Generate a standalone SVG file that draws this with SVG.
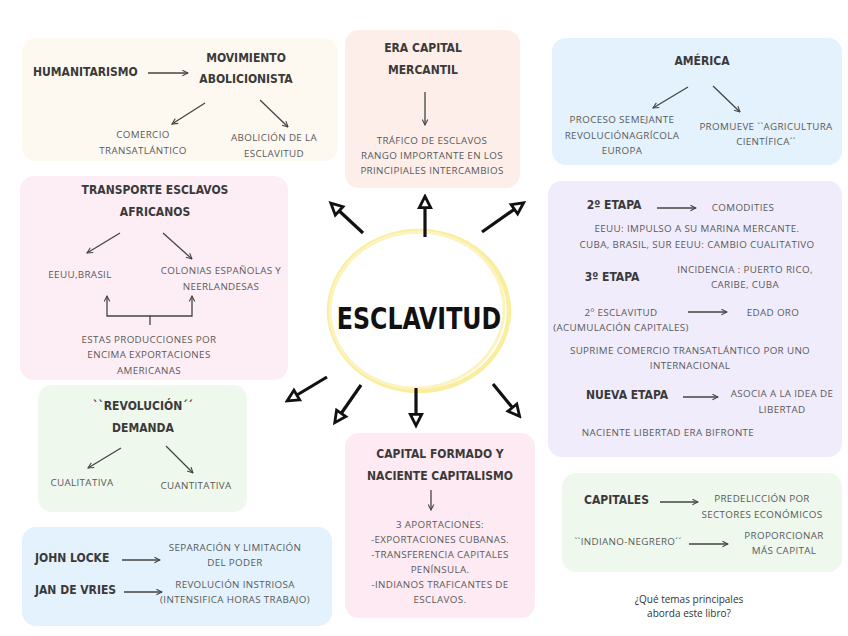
<svg xmlns="http://www.w3.org/2000/svg" width="848" height="636" viewBox="0 0 848 636">
<defs>
<style>
.h{font-family:"DejaVu Sans Condensed","Liberation Sans Narrow","DejaVu Sans",sans-serif;font-weight:bold;font-size:12px;fill:#3a3a3a;text-anchor:middle}
.hl{text-anchor:start}
.t{font-family:"Open Sans","Liberation Sans",sans-serif;font-size:9.8px;letter-spacing:0.35px;fill:#5a5a5a;text-anchor:middle}
.q{font-family:"Open Sans","Liberation Sans",sans-serif;font-size:10px;fill:#333;text-anchor:middle}
.a{stroke:#444;stroke-width:1.3;fill:none;marker-end:url(#ah)}
.b{stroke:#111;stroke-width:3.2;fill:none;marker-end:url(#bh)}
</style>
<marker id="ah" viewBox="0 0 10 10" refX="9" refY="5" markerWidth="7" markerHeight="7" markerUnits="userSpaceOnUse" orient="auto"><path d="M1,1 L9,5 L1,9" fill="none" stroke="#444" stroke-width="1.5"/></marker>
<marker id="bh" viewBox="0 0 12 12" refX="6" refY="6" markerWidth="17" markerHeight="17" markerUnits="userSpaceOnUse" orient="auto"><path d="M2,2 L10,6 L2,10 Z" fill="#fff" stroke="#111" stroke-width="2"/></marker>
</defs>
<rect width="848" height="636" fill="#fff"/>

<g id="n-humanitarismo">
<rect x="22" y="38" width="316" height="123" rx="14" fill="#fdf9f1"/>
<text class="h hl" x="33" y="76">HUMANITARISMO</text>
<text class="h" x="246" y="62">MOVIMIENTO</text>
<text class="h" x="246" y="83">ABOLICIONISTA</text>
<text class="t" x="143" y="138">COMERCIO</text>
<text class="t" x="143" y="154">TRANSATLÁNTICO</text>
<text class="t" x="274" y="141">ABOLICIÓN DE LA</text>
<text class="t" x="274" y="157">ESCLAVITUD</text>
</g>

<g id="n-era">
<rect x="345" y="30" width="175" height="158" rx="14" fill="#fdeee9"/>
<text class="h" x="423" y="52">ERA CAPITAL</text>
<text class="h" x="423" y="74">MERCANTIL</text>
<text class="t" x="432" y="144">TRÁFICO DE ESCLAVOS</text>
<text class="t" x="432" y="159">RANGO IMPORTANTE EN LOS</text>
<text class="t" x="432" y="174">PRINCIPIALES INTERCAMBIOS</text>
</g>

<g id="n-america">
<rect x="552" y="38" width="290" height="127" rx="14" fill="#e3f2fd"/>
<text class="h" x="702" y="65">AMÉRICA</text>
<text class="t" x="622" y="123">PROCESO SEMEJANTE</text>
<text class="t" x="622" y="139">REVOLUCIÓNAGRÍCOLA</text>
<text class="t" x="622" y="154">EUROPA</text>
<text class="t" x="766" y="130">PROMUEVE ``AGRICULTURA</text>
<text class="t" x="766" y="145">CIENTÍFICA´´</text>
</g>

<g id="n-transporte">
<rect x="20" y="176" width="268" height="204" rx="14" fill="#fdeef6"/>
<text class="h" x="155" y="194">TRANSPORTE ESCLAVOS</text>
<text class="h" x="155" y="216">AFRICANOS</text>
<text class="t" x="80" y="278">EEUU,BRASIL</text>
<text class="t" x="221" y="274">COLONIAS ESPAÑOLAS Y</text>
<text class="t" x="221" y="290">NEERLANDESAS</text>
<text class="t" x="149" y="343">ESTAS PRODUCCIONES POR</text>
<text class="t" x="149" y="358">ENCIMA EXPORTACIONES</text>
<text class="t" x="149" y="374">AMERICANAS</text>
</g>

<g id="n-etapas">
<rect x="548" y="181" width="294" height="276" rx="14" fill="#f1ecfb"/>
<text class="h" x="614" y="209">2º ETAPA</text>
<text class="t" x="743" y="211">COMODITIES</text>
<text class="t" x="697" y="232">EEUU: IMPULSO A SU MARINA MERCANTE.</text>
<text class="t" x="697" y="248">CUBA, BRASIL, SUR EEUU: CAMBIO CUALITATIVO</text>
<text class="h" x="612" y="281">3º ETAPA</text>
<text class="t" x="745" y="273">INCIDENCIA : PUERTO RICO,</text>
<text class="t" x="745" y="288">CARIBE, CUBA</text>
<text class="t" x="621" y="316">2º ESCLAVITUD</text>
<text class="t" x="621" y="331">(ACUMULACIÓN CAPITALES)</text>
<text class="t" x="773" y="316">EDAD ORO</text>
<text class="t" x="690" y="354">SUPRIME COMERCIO TRANSATLÁNTICO POR UNO</text>
<text class="t" x="690" y="369">INTERNACIONAL</text>
<text class="h" x="627" y="399">NUEVA ETAPA</text>
<text class="t" x="782" y="397">ASOCIA A LA IDEA DE</text>
<text class="t" x="782" y="413">LIBERTAD</text>
<text class="t" x="668" y="436">NACIENTE LIBERTAD ERA BIFRONTE</text>
</g>

<g id="n-revolucion">
<rect x="38" y="385" width="209" height="127" rx="14" fill="#eef8ec"/>
<text class="h" x="143" y="410">``REVOLUCIÓN´´</text>
<text class="h" x="143" y="432">DEMANDA</text>
<text class="t" x="82" y="486">CUALITATIVA</text>
<text class="t" x="196" y="489">CUANTITATIVA</text>
</g>

<g id="n-capital">
<rect x="345" y="433" width="190" height="185" rx="14" fill="#fdeaf3"/>
<text class="h" x="440" y="458">CAPITAL FORMADO Y</text>
<text class="h" x="440" y="480">NACIENTE CAPITALISMO</text>
<text class="t" x="440" y="528">3 APORTACIONES:</text>
<text class="t" x="440" y="543">-EXPORTACIONES CUBANAS.</text>
<text class="t" x="440" y="558">-TRANSFERENCIA CAPITALES</text>
<text class="t" x="440" y="573">PENÍNSULA.</text>
<text class="t" x="440" y="588">-INDIANOS TRAFICANTES DE</text>
<text class="t" x="440" y="603">ESCLAVOS.</text>
</g>

<g id="n-locke">
<rect x="22" y="527" width="310" height="99" rx="14" fill="#e3f2fd"/>
<text class="h hl" x="35" y="562">JOHN LOCKE</text>
<text class="t" x="235" y="551">SEPARACIÓN Y LIMITACIÓN</text>
<text class="t" x="235" y="566">DEL PODER</text>
<text class="h hl" x="35" y="594">JAN DE VRIES</text>
<text class="t" x="235" y="588">REVOLUCIÓN INSTRIOSA</text>
<text class="t" x="235" y="603">(INTENSIFICA HORAS TRABAJO)</text>
</g>

<g id="n-capitales">
<rect x="562" y="473" width="280" height="99" rx="14" fill="#eef8ec"/>
<text class="h hl" x="584" y="504">CAPITALES</text>
<text class="t" x="762" y="502">PREDELICCIÓN POR</text>
<text class="t" x="762" y="518">SECTORES ECONÓMICOS</text>
<text class="t" x="628" y="545">``INDIANO-NEGRERO´´</text>
<text class="t" x="784" y="539">PROPORCIONAR</text>
<text class="t" x="784" y="554">MÁS CAPITAL</text>
</g>

<g id="n-pregunta">
<text class="q" x="689" y="603">¿Qué temas principales</text>
<text class="q" x="689" y="617">aborda este libro?</text>
</g>

<g id="n-esclavitud">
<ellipse cx="419" cy="311" rx="90" ry="80" fill="none" stroke="#faee9e" stroke-width="4.5"/>
<ellipse cx="417" cy="310" rx="87" ry="78" fill="none" stroke="#fcf3c0" stroke-width="3" transform="rotate(-4 417 310)"/>
<text transform="translate(419 329) scale(0.85 1)" x="0" y="0" font-family="DejaVu Sans Condensed,DejaVu Sans,sans-serif" font-weight="bold" font-size="31" fill="#111" text-anchor="middle">ESCLAVITUD</text>
</g>

<g id="connectors">
<line class="a" x1="148" y1="73" x2="188" y2="73"/>
<line class="a" x1="205" y1="103" x2="172" y2="124"/>
<line class="a" x1="260" y1="100" x2="288" y2="127"/>
<line class="a" x1="425" y1="92" x2="425" y2="125"/>
<line class="a" x1="688" y1="87" x2="653" y2="108"/>
<line class="a" x1="713" y1="86" x2="740" y2="112"/>
<line class="a" x1="120" y1="233" x2="87" y2="253"/>
<line class="a" x1="163" y1="233" x2="192" y2="259"/>
<path class="a" d="M150,325 V316 H107 V296"/>
<path class="a" d="M150,316 H192 V296"/>
<line class="a" x1="657" y1="208" x2="696" y2="208"/>
<line class="a" x1="688" y1="312" x2="727" y2="312"/>
<line class="a" x1="683" y1="397" x2="718" y2="397"/>
<line class="a" x1="121" y1="448" x2="88" y2="468"/>
<line class="a" x1="166" y1="446" x2="193" y2="473"/>
<line class="a" x1="431" y1="490" x2="431" y2="510"/>
<line class="a" x1="122" y1="560" x2="160" y2="560"/>
<line class="a" x1="124" y1="592" x2="162" y2="592"/>
<line class="a" x1="660" y1="502" x2="698" y2="502"/>
<line class="a" x1="689" y1="544" x2="728" y2="544"/>
<line class="b" x1="363" y1="233" x2="335" y2="207"/>
<line class="b" x1="425" y1="237" x2="425" y2="202"/>
<line class="b" x1="482" y1="232" x2="519" y2="206"/>
<line class="b" x1="327" y1="377" x2="292" y2="398"/>
<line class="b" x1="361" y1="385" x2="338" y2="418"/>
<line class="b" x1="416" y1="388" x2="416" y2="420"/>
<line class="b" x1="493" y1="384" x2="516" y2="412"/>
</g>
</svg>
